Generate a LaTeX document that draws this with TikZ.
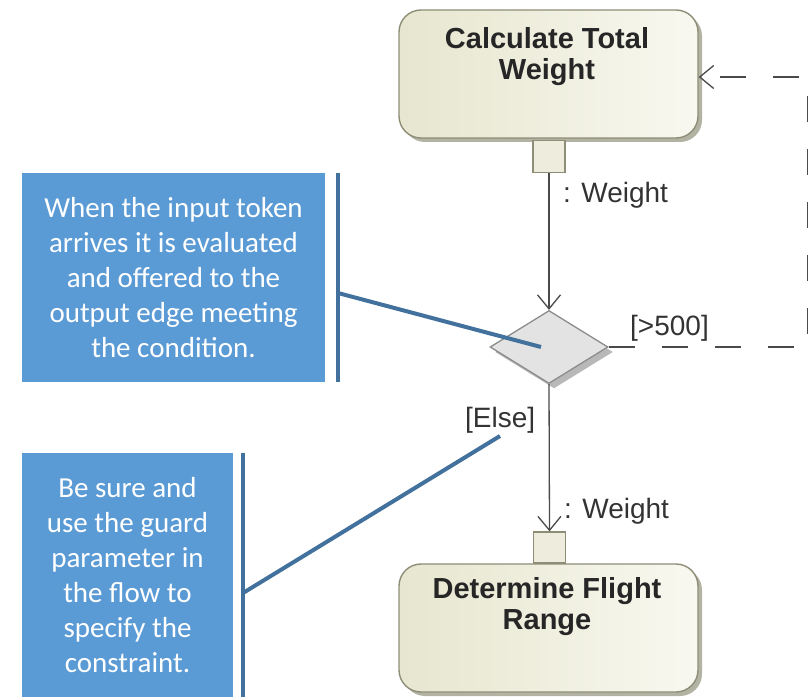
\documentclass[tikz,border=0pt]{standalone}
\usepackage{fontspec}
\setmainfont{Liberation Sans}
\newfontfamily\calloutfont{Carlito}
\usetikzlibrary{arrows.meta,shapes.geometric,shadows}

\definecolor{actleft}{HTML}{E7E6CF}
\definecolor{actright}{HTML}{F8F8F0}
\definecolor{actborder}{HTML}{8E8E78}
\definecolor{actshadow}{HTML}{B3B3A3}
\definecolor{decfill}{HTML}{E3E3E3}
\definecolor{decborder}{HTML}{8C8C8C}
\definecolor{flowcol}{HTML}{4A4A4A}
\definecolor{notefill}{HTML}{5B9BD5}
\definecolor{noteline}{HTML}{41719C}

\tikzset{
  action/.style={draw=actborder, line width=1.4pt, rounded corners=22pt,
    left color=actleft, right color=actright, inner sep=0pt,
    minimum width=299pt, minimum height=128pt,
    drop shadow={shadow xshift=4pt, shadow yshift=-4pt, fill=actshadow, opacity=1}},
  acttext/.style={font=\fontsize{29}{31}\selectfont\bfseries, text=black!85,
    align=center, inner sep=0pt},
  pinbox/.style={draw=actborder, line width=1.3pt, fill=actleft!70!white,
    inner sep=0pt, minimum width=32pt, minimum height=32pt},
  decision/.style={diamond, draw=decborder, line width=1.3pt, fill=decfill,
    inner sep=0pt, aspect=1.6, minimum width=118pt, minimum height=73pt,
    drop shadow={shadow xshift=5pt, shadow yshift=-5pt, fill=black!28, opacity=1}},
  flow/.style={draw=flowcol, line width=1.3pt,
    -{Straight Barb[length=14pt,width=23pt,line width=1.3pt]}},
  guardflow/.style={flow, dash pattern=on 26pt off 27pt},
  flowlabel/.style={font=\fontsize{28}{31}\selectfont, text=black!80, inner sep=0pt},
  note/.style={fill=notefill, text=white, align=center, inner sep=0pt,
    font=\calloutfont\fontsize{29}{35}\selectfont},
  bracket/.style={draw=noteline, line width=4pt},
  pointer/.style={draw=noteline, line width=4pt}
}

\begin{document}
\begin{tikzpicture}[x=1pt,y=-1pt]
\useasboundingbox (0,0) rectangle (810,700);
\clip (0,0) rectangle (810,700);

% actions
\node[action] (calc) at (548.5,74) {};
\node[acttext, anchor=north] (calctxt) at (547,27) {Calculate Total\\Weight};
\node[pinbox] (pinout) at (549,156.5) {};

\node[action] (range) at (548.5,628) {};
\node[acttext, anchor=north] (rangetxt) at (547,577) {Determine Flight\\Range};
\node[pinbox, minimum height=31pt] (pinin) at (549.5,547.5) {};

% decision
\node[decision] (dec) at (549,347) {};

% flows
\draw[flow] (pinout.south) -- (dec.north);
\draw[flow] (dec.south) -- (pinin.north);
\coordinate (loopbr) at (807.5,347);
\coordinate (looptr) at (807.5,77);
\draw[guardflow] (dec.east) -- (loopbr) -- (looptr) -- (calc.east |- looptr);

% flow labels
\node[flowlabel, anchor=base west] (wout) at (563,203) {: Weight};
\node[flowlabel, anchor=base west] (win) at (564,518) {: Weight};
\node[flowlabel, anchor=base west] (gt) at (630,335) {[>500]};
\node[flowlabel, anchor=base west] (else) at (465,427) {[Else]};

% notes
\node[note, minimum width=303pt, minimum height=209pt] (note1) at (173.5,277.5)
  {When the input token\\arrives it is evaluated\\and offered to the\\output edge meeting\\the condition.};
\node[note, minimum width=211pt, minimum height=244pt] (note2) at (127.5,575)
  {Be sure and\\use the guard\\parameter in\\the flow to\\specify the\\constraint.};

\coordinate (b1t) at (338,173);
\coordinate (b1b) at (338,382);
\coordinate (b1m) at (338,293);
\draw[bracket] (b1t) -- (b1b);
\draw[pointer] (b1m) -- ([xshift=-8pt]dec.center);

\coordinate (b2t) at (243,453);
\coordinate (b2b) at (243,697);
\coordinate (b2m) at (243,593);
\coordinate (elsetip) at (500,436);
\draw[bracket] (b2t) -- (b2b);
\draw[pointer] (b2m) -- (elsetip);
\end{tikzpicture}
\end{document}
